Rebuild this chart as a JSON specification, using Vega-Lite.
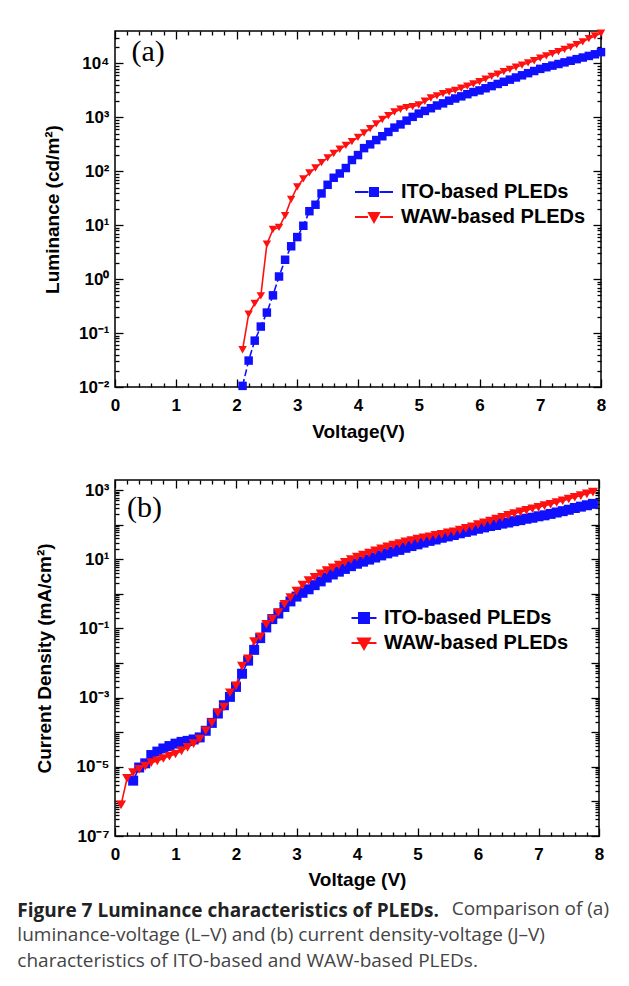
{
  "$schema": "https://vega.github.io/schema/vega-lite/v6.json",
  "padding": {"left": 17, "top": 28, "right": 5, "bottom": 5},
  "background": "white",
  "datasets": {
    "lv": [
      {"s":"ITO-based PLEDs","v":2.1,"y":0.0105},{"s":"ITO-based PLEDs","v":2.2,"y":0.0309},{"s":"ITO-based PLEDs","v":2.3,"y":0.0724},{"s":"ITO-based PLEDs","v":2.4,"y":0.132},{"s":"ITO-based PLEDs","v":2.5,"y":0.24},{"s":"ITO-based PLEDs","v":2.6,"y":0.501},{"s":"ITO-based PLEDs","v":2.7,"y":1.12},{"s":"ITO-based PLEDs","v":2.8,"y":2.29},{"s":"ITO-based PLEDs","v":2.9,"y":4.07},{"s":"ITO-based PLEDs","v":3.0,"y":6.03},
      {"s":"ITO-based PLEDs","v":3.1,"y":9.77},{"s":"ITO-based PLEDs","v":3.2,"y":18.2},{"s":"ITO-based PLEDs","v":3.3,"y":24.0},{"s":"ITO-based PLEDs","v":3.4,"y":38.9},{"s":"ITO-based PLEDs","v":3.5,"y":56.2},{"s":"ITO-based PLEDs","v":3.6,"y":75.9},{"s":"ITO-based PLEDs","v":3.7,"y":91.2},{"s":"ITO-based PLEDs","v":3.8,"y":115},{"s":"ITO-based PLEDs","v":3.9,"y":162},{"s":"ITO-based PLEDs","v":4.0,"y":200},
      {"s":"ITO-based PLEDs","v":4.1,"y":269},{"s":"ITO-based PLEDs","v":4.2,"y":316},{"s":"ITO-based PLEDs","v":4.3,"y":380},{"s":"ITO-based PLEDs","v":4.4,"y":447},{"s":"ITO-based PLEDs","v":4.5,"y":537},{"s":"ITO-based PLEDs","v":4.6,"y":646},{"s":"ITO-based PLEDs","v":4.7,"y":741},{"s":"ITO-based PLEDs","v":4.8,"y":871},{"s":"ITO-based PLEDs","v":4.9,"y":1023},{"s":"ITO-based PLEDs","v":5.0,"y":1175},
      {"s":"ITO-based PLEDs","v":5.1,"y":1318},{"s":"ITO-based PLEDs","v":5.2,"y":1479},{"s":"ITO-based PLEDs","v":5.3,"y":1660},{"s":"ITO-based PLEDs","v":5.4,"y":1820},{"s":"ITO-based PLEDs","v":5.5,"y":2042},{"s":"ITO-based PLEDs","v":5.6,"y":2239},{"s":"ITO-based PLEDs","v":5.7,"y":2455},{"s":"ITO-based PLEDs","v":5.8,"y":2692},{"s":"ITO-based PLEDs","v":5.9,"y":2951},{"s":"ITO-based PLEDs","v":6.0,"y":3162},
      {"s":"ITO-based PLEDs","v":6.1,"y":3467},{"s":"ITO-based PLEDs","v":6.2,"y":3802},{"s":"ITO-based PLEDs","v":6.3,"y":4169},{"s":"ITO-based PLEDs","v":6.4,"y":4571},{"s":"ITO-based PLEDs","v":6.5,"y":5012},{"s":"ITO-based PLEDs","v":6.6,"y":5495},{"s":"ITO-based PLEDs","v":6.7,"y":6026},{"s":"ITO-based PLEDs","v":6.8,"y":6607},{"s":"ITO-based PLEDs","v":6.9,"y":7244},{"s":"ITO-based PLEDs","v":7.0,"y":7943},
      {"s":"ITO-based PLEDs","v":7.1,"y":8511},{"s":"ITO-based PLEDs","v":7.2,"y":9120},{"s":"ITO-based PLEDs","v":7.3,"y":9772},{"s":"ITO-based PLEDs","v":7.4,"y":10470},{"s":"ITO-based PLEDs","v":7.5,"y":11220},{"s":"ITO-based PLEDs","v":7.6,"y":12020},{"s":"ITO-based PLEDs","v":7.7,"y":12880},{"s":"ITO-based PLEDs","v":7.8,"y":13800},{"s":"ITO-based PLEDs","v":7.9,"y":14790},{"s":"ITO-based PLEDs","v":8.0,"y":16220},
      {"s":"WAW-based PLEDs","v":2.1,"y":0.049},{"s":"WAW-based PLEDs","v":2.2,"y":0.224},{"s":"WAW-based PLEDs","v":2.3,"y":0.355},{"s":"WAW-based PLEDs","v":2.4,"y":0.49},{"s":"WAW-based PLEDs","v":2.5,"y":4.47},{"s":"WAW-based PLEDs","v":2.6,"y":8.32},{"s":"WAW-based PLEDs","v":2.7,"y":9.12},{"s":"WAW-based PLEDs","v":2.8,"y":15.1},{"s":"WAW-based PLEDs","v":2.9,"y":30.2},{"s":"WAW-based PLEDs","v":3.0,"y":51.3},
      {"s":"WAW-based PLEDs","v":3.1,"y":72.4},{"s":"WAW-based PLEDs","v":3.2,"y":93.3},{"s":"WAW-based PLEDs","v":3.3,"y":115},{"s":"WAW-based PLEDs","v":3.4,"y":145},{"s":"WAW-based PLEDs","v":3.5,"y":178},{"s":"WAW-based PLEDs","v":3.6,"y":214},{"s":"WAW-based PLEDs","v":3.7,"y":257},{"s":"WAW-based PLEDs","v":3.8,"y":302},{"s":"WAW-based PLEDs","v":3.9,"y":355},{"s":"WAW-based PLEDs","v":4.0,"y":427},
      {"s":"WAW-based PLEDs","v":4.1,"y":513},{"s":"WAW-based PLEDs","v":4.2,"y":617},{"s":"WAW-based PLEDs","v":4.3,"y":759},{"s":"WAW-based PLEDs","v":4.4,"y":912},{"s":"WAW-based PLEDs","v":4.5,"y":1072},{"s":"WAW-based PLEDs","v":4.6,"y":1259},{"s":"WAW-based PLEDs","v":4.7,"y":1413},{"s":"WAW-based PLEDs","v":4.8,"y":1514},{"s":"WAW-based PLEDs","v":4.9,"y":1585},{"s":"WAW-based PLEDs","v":5.0,"y":1698},
      {"s":"WAW-based PLEDs","v":5.1,"y":1995},{"s":"WAW-based PLEDs","v":5.2,"y":2291},{"s":"WAW-based PLEDs","v":5.3,"y":2512},{"s":"WAW-based PLEDs","v":5.4,"y":2754},{"s":"WAW-based PLEDs","v":5.5,"y":2951},{"s":"WAW-based PLEDs","v":5.6,"y":3162},{"s":"WAW-based PLEDs","v":5.7,"y":3467},{"s":"WAW-based PLEDs","v":5.8,"y":3802},{"s":"WAW-based PLEDs","v":5.9,"y":4169},{"s":"WAW-based PLEDs","v":6.0,"y":4571},
      {"s":"WAW-based PLEDs","v":6.1,"y":5129},{"s":"WAW-based PLEDs","v":6.2,"y":5754},{"s":"WAW-based PLEDs","v":6.3,"y":6310},{"s":"WAW-based PLEDs","v":6.4,"y":7079},{"s":"WAW-based PLEDs","v":6.5,"y":7762},{"s":"WAW-based PLEDs","v":6.6,"y":8511},{"s":"WAW-based PLEDs","v":6.7,"y":9333},{"s":"WAW-based PLEDs","v":6.8,"y":10230},{"s":"WAW-based PLEDs","v":6.9,"y":11220},{"s":"WAW-based PLEDs","v":7.0,"y":12590},
      {"s":"WAW-based PLEDs","v":7.1,"y":13800},{"s":"WAW-based PLEDs","v":7.2,"y":15140},{"s":"WAW-based PLEDs","v":7.3,"y":16600},{"s":"WAW-based PLEDs","v":7.4,"y":18200},{"s":"WAW-based PLEDs","v":7.5,"y":19950},{"s":"WAW-based PLEDs","v":7.6,"y":22390},{"s":"WAW-based PLEDs","v":7.7,"y":25120},{"s":"WAW-based PLEDs","v":7.8,"y":28840},{"s":"WAW-based PLEDs","v":7.9,"y":32360},{"s":"WAW-based PLEDs","v":8.0,"y":36310}
    ],
    "jv": [
      {"s":"ITO-based PLEDs","v":0.3,"y":3.98e-6},{"s":"ITO-based PLEDs","v":0.4,"y":9.55e-6},{"s":"ITO-based PLEDs","v":0.5,"y":1.26e-5},{"s":"ITO-based PLEDs","v":0.6,"y":2.19e-5},{"s":"ITO-based PLEDs","v":0.7,"y":2.75e-5},{"s":"ITO-based PLEDs","v":0.8,"y":3.39e-5},{"s":"ITO-based PLEDs","v":0.9,"y":3.98e-5},{"s":"ITO-based PLEDs","v":1.0,"y":4.68e-5},
      {"s":"ITO-based PLEDs","v":1.1,"y":5.25e-5},{"s":"ITO-based PLEDs","v":1.2,"y":5.62e-5},{"s":"ITO-based PLEDs","v":1.3,"y":6.17e-5},{"s":"ITO-based PLEDs","v":1.4,"y":7.08e-5},{"s":"ITO-based PLEDs","v":1.5,"y":1.10e-4},{"s":"ITO-based PLEDs","v":1.6,"y":1.86e-4},{"s":"ITO-based PLEDs","v":1.7,"y":3.47e-4},{"s":"ITO-based PLEDs","v":1.8,"y":6.03e-4},{"s":"ITO-based PLEDs","v":1.9,"y":1.05e-3},{"s":"ITO-based PLEDs","v":2.0,"y":2.04e-3},
      {"s":"ITO-based PLEDs","v":2.1,"y":4.90e-3},{"s":"ITO-based PLEDs","v":2.2,"y":0.0117},{"s":"ITO-based PLEDs","v":2.3,"y":0.024},{"s":"ITO-based PLEDs","v":2.4,"y":0.0525},{"s":"ITO-based PLEDs","v":2.5,"y":0.107},{"s":"ITO-based PLEDs","v":2.6,"y":0.186},{"s":"ITO-based PLEDs","v":2.7,"y":0.269},{"s":"ITO-based PLEDs","v":2.8,"y":0.417},{"s":"ITO-based PLEDs","v":2.9,"y":0.603},{"s":"ITO-based PLEDs","v":3.0,"y":0.832},
      {"s":"ITO-based PLEDs","v":3.1,"y":1.07},{"s":"ITO-based PLEDs","v":3.2,"y":1.35},{"s":"ITO-based PLEDs","v":3.3,"y":1.78},{"s":"ITO-based PLEDs","v":3.4,"y":2.29},{"s":"ITO-based PLEDs","v":3.5,"y":2.95},{"s":"ITO-based PLEDs","v":3.6,"y":3.63},{"s":"ITO-based PLEDs","v":3.7,"y":4.37},{"s":"ITO-based PLEDs","v":3.8,"y":5.25},{"s":"ITO-based PLEDs","v":3.9,"y":6.31},{"s":"ITO-based PLEDs","v":4.0,"y":7.41},
      {"s":"ITO-based PLEDs","v":4.1,"y":8.51},{"s":"ITO-based PLEDs","v":4.2,"y":9.77},{"s":"ITO-based PLEDs","v":4.3,"y":11.2},{"s":"ITO-based PLEDs","v":4.4,"y":12.9},{"s":"ITO-based PLEDs","v":4.5,"y":14.8},{"s":"ITO-based PLEDs","v":4.6,"y":16.6},{"s":"ITO-based PLEDs","v":4.7,"y":18.6},{"s":"ITO-based PLEDs","v":4.8,"y":21.4},{"s":"ITO-based PLEDs","v":4.9,"y":24.0},{"s":"ITO-based PLEDs","v":5.0,"y":26.9},
      {"s":"ITO-based PLEDs","v":5.1,"y":30.2},{"s":"ITO-based PLEDs","v":5.2,"y":33.9},{"s":"ITO-based PLEDs","v":5.3,"y":37.2},{"s":"ITO-based PLEDs","v":5.4,"y":41.7},{"s":"ITO-based PLEDs","v":5.5,"y":45.7},{"s":"ITO-based PLEDs","v":5.6,"y":50.1},{"s":"ITO-based PLEDs","v":5.7,"y":56.2},{"s":"ITO-based PLEDs","v":5.8,"y":61.7},{"s":"ITO-based PLEDs","v":5.9,"y":67.6},{"s":"ITO-based PLEDs","v":6.0,"y":75.9},
      {"s":"ITO-based PLEDs","v":6.1,"y":83.2},{"s":"ITO-based PLEDs","v":6.2,"y":91.2},{"s":"ITO-based PLEDs","v":6.3,"y":97.7},{"s":"ITO-based PLEDs","v":6.4,"y":107},{"s":"ITO-based PLEDs","v":6.5,"y":115},{"s":"ITO-based PLEDs","v":6.6,"y":126},{"s":"ITO-based PLEDs","v":6.7,"y":135},{"s":"ITO-based PLEDs","v":6.8,"y":148},{"s":"ITO-based PLEDs","v":6.9,"y":158},{"s":"ITO-based PLEDs","v":7.0,"y":174},
      {"s":"ITO-based PLEDs","v":7.1,"y":186},{"s":"ITO-based PLEDs","v":7.2,"y":204},{"s":"ITO-based PLEDs","v":7.3,"y":224},{"s":"ITO-based PLEDs","v":7.4,"y":245},{"s":"ITO-based PLEDs","v":7.5,"y":269},{"s":"ITO-based PLEDs","v":7.6,"y":302},{"s":"ITO-based PLEDs","v":7.7,"y":331},{"s":"ITO-based PLEDs","v":7.8,"y":363},{"s":"ITO-based PLEDs","v":7.9,"y":398},
      {"s":"WAW-based PLEDs","v":0.1,"y":7.94e-7},{"s":"WAW-based PLEDs","v":0.2,"y":4.68e-6},{"s":"WAW-based PLEDs","v":0.3,"y":6.76e-6},{"s":"WAW-based PLEDs","v":0.4,"y":8.51e-6},{"s":"WAW-based PLEDs","v":0.5,"y":1.05e-5},{"s":"WAW-based PLEDs","v":0.6,"y":1.32e-5},{"s":"WAW-based PLEDs","v":0.7,"y":1.48e-5},{"s":"WAW-based PLEDs","v":0.8,"y":1.74e-5},{"s":"WAW-based PLEDs","v":0.9,"y":2.04e-5},{"s":"WAW-based PLEDs","v":1.0,"y":2.34e-5},
      {"s":"WAW-based PLEDs","v":1.1,"y":2.88e-5},{"s":"WAW-based PLEDs","v":1.2,"y":3.63e-5},{"s":"WAW-based PLEDs","v":1.3,"y":4.68e-5},{"s":"WAW-based PLEDs","v":1.4,"y":6.31e-5},{"s":"WAW-based PLEDs","v":1.5,"y":1.10e-4},{"s":"WAW-based PLEDs","v":1.6,"y":1.86e-4},{"s":"WAW-based PLEDs","v":1.7,"y":3.63e-4},{"s":"WAW-based PLEDs","v":1.8,"y":5.37e-4},{"s":"WAW-based PLEDs","v":1.9,"y":1.38e-3},{"s":"WAW-based PLEDs","v":2.0,"y":2.19e-3},
      {"s":"WAW-based PLEDs","v":2.1,"y":8.13e-3},{"s":"WAW-based PLEDs","v":2.2,"y":0.0132},{"s":"WAW-based PLEDs","v":2.3,"y":0.0417},{"s":"WAW-based PLEDs","v":2.4,"y":0.0575},{"s":"WAW-based PLEDs","v":2.5,"y":0.132},{"s":"WAW-based PLEDs","v":2.6,"y":0.186},{"s":"WAW-based PLEDs","v":2.7,"y":0.288},{"s":"WAW-based PLEDs","v":2.8,"y":0.501},{"s":"WAW-based PLEDs","v":2.9,"y":0.776},{"s":"WAW-based PLEDs","v":3.0,"y":1.2},
      {"s":"WAW-based PLEDs","v":3.1,"y":1.78},{"s":"WAW-based PLEDs","v":3.2,"y":2.4},{"s":"WAW-based PLEDs","v":3.3,"y":3.02},{"s":"WAW-based PLEDs","v":3.4,"y":3.8},{"s":"WAW-based PLEDs","v":3.5,"y":4.68},{"s":"WAW-based PLEDs","v":3.6,"y":5.62},{"s":"WAW-based PLEDs","v":3.7,"y":6.76},{"s":"WAW-based PLEDs","v":3.8,"y":8.13},{"s":"WAW-based PLEDs","v":3.9,"y":9.77},{"s":"WAW-based PLEDs","v":4.0,"y":11.5},
      {"s":"WAW-based PLEDs","v":4.1,"y":13.2},{"s":"WAW-based PLEDs","v":4.2,"y":15.1},{"s":"WAW-based PLEDs","v":4.3,"y":17.4},{"s":"WAW-based PLEDs","v":4.4,"y":20.0},{"s":"WAW-based PLEDs","v":4.5,"y":22.9},{"s":"WAW-based PLEDs","v":4.6,"y":25.7},{"s":"WAW-based PLEDs","v":4.7,"y":28.2},{"s":"WAW-based PLEDs","v":4.8,"y":31.6},{"s":"WAW-based PLEDs","v":4.9,"y":34.7},{"s":"WAW-based PLEDs","v":5.0,"y":38.0},
      {"s":"WAW-based PLEDs","v":5.1,"y":41.7},{"s":"WAW-based PLEDs","v":5.2,"y":44.7},{"s":"WAW-based PLEDs","v":5.3,"y":49.0},{"s":"WAW-based PLEDs","v":5.4,"y":52.5},{"s":"WAW-based PLEDs","v":5.5,"y":57.5},{"s":"WAW-based PLEDs","v":5.6,"y":61.7},{"s":"WAW-based PLEDs","v":5.7,"y":69.2},{"s":"WAW-based PLEDs","v":5.8,"y":77.6},{"s":"WAW-based PLEDs","v":5.9,"y":87.1},{"s":"WAW-based PLEDs","v":6.0,"y":100},
      {"s":"WAW-based PLEDs","v":6.1,"y":112},{"s":"WAW-based PLEDs","v":6.2,"y":126},{"s":"WAW-based PLEDs","v":6.3,"y":145},{"s":"WAW-based PLEDs","v":6.4,"y":162},{"s":"WAW-based PLEDs","v":6.5,"y":186},{"s":"WAW-based PLEDs","v":6.6,"y":209},{"s":"WAW-based PLEDs","v":6.7,"y":234},{"s":"WAW-based PLEDs","v":6.8,"y":257},{"s":"WAW-based PLEDs","v":6.9,"y":288},{"s":"WAW-based PLEDs","v":7.0,"y":316},
      {"s":"WAW-based PLEDs","v":7.1,"y":355},{"s":"WAW-based PLEDs","v":7.2,"y":389},{"s":"WAW-based PLEDs","v":7.3,"y":437},{"s":"WAW-based PLEDs","v":7.4,"y":490},{"s":"WAW-based PLEDs","v":7.5,"y":550},{"s":"WAW-based PLEDs","v":7.6,"y":617},{"s":"WAW-based PLEDs","v":7.7,"y":692},{"s":"WAW-based PLEDs","v":7.8,"y":776},{"s":"WAW-based PLEDs","v":7.9,"y":871}
    ]
  },
  "title": {
    "text": "Figure 7 Luminance characteristics of PLEDs.",
    "subtitle": [
      "\u200b\u00a0\u00a0\u00a0\u00a0\u00a0\u00a0\u00a0\u00a0\u00a0\u00a0\u00a0\u00a0\u00a0\u00a0\u00a0\u00a0\u00a0\u00a0\u00a0\u00a0\u00a0\u00a0\u00a0\u00a0\u00a0\u00a0\u00a0\u00a0\u00a0\u00a0\u00a0\u00a0\u00a0\u00a0\u00a0\u00a0\u00a0\u00a0\u00a0\u00a0\u00a0\u00a0\u00a0\u00a0\u00a0\u00a0\u00a0\u00a0\u00a0\u00a0\u00a0\u00a0\u00a0\u00a0\u00a0\u00a0\u00a0\u00a0\u00a0\u00a0\u00a0\u00a0\u00a0\u00a0\u00a0\u00a0\u00a0\u00a0\u00a0\u00a0\u00a0\u00a0\u00a0\u00a0\u00a0\u00a0\u00a0\u00a0\u00a0\u00a0\u00a0\u00a0\u00a0\u00a0\u00a0\u00a0\u00a0\u00a0Comparison of (a)",
      "luminance-voltage (L–V) and (b) current density-voltage (J–V)",
      "characteristics of ITO-based and WAW-based PLEDs."
    ],
    "orient": "bottom",
    "anchor": "start",
    "dx": -17,
    "offset": 12,
    "font": "Open Sans",
    "fontSize": 19,
    "fontWeight": "bold",
    "color": "#222222",
    "subtitleFont": "Open Sans",
    "subtitleFontSize": 19,
    "subtitleColor": "#444444",
    "subtitleLineHeight": 26,
    "subtitlePadding": -21
  },
  "spacing": 36,
  "resolve": {"scale": {"color": "independent", "shape": "independent", "strokeDash": "independent"}, "legend": {"color": "independent"}},
  "vconcat": [
    {
      "width": 486,
      "height": 356,
      "data": {"name": "lv"},
      "layer": [
        {
          "mark": {"type": "line", "strokeWidth": 1.6},
          "encoding": {
            "x": {"field": "v", "type": "quantitative", "scale": {"domain": [0, 8], "nice": false, "zero": false},
              "axis": {"orient": "bottom", "values": [0,1,2,3,4,5,6,7,8], "tickSize": -8, "labelPadding": 18, "labelFlush": false, "format": "d", "title": "Voltage(V)", "titlePadding": 9}},
            "y": {"field": "y", "type": "quantitative", "scale": {"type": "log", "domain": [0.01, 40000], "nice": false},
              "axis": {"orient": "left", "values": [0.01,0.1,1,10,100,1000,10000], "tickSize": -8, "labelPadding": 14, "labelOverlap": false,
                "labelExpr": "'10' + (datum.value < 1 ? '⁻' : '') + ['⁰','¹','²','³','⁴','⁵','⁶','⁷','⁸','⁹'][abs(round(log(datum.value)/LN10))]",
                "title": "Luminance (cd/m²)", "titlePadding": 16}},
            "color": {"field": "s", "type": "nominal", "scale": {"domain": ["ITO-based PLEDs","WAW-based PLEDs"], "range": ["#1010ff","#ff1010"]}},
            "strokeDash": {"field": "s", "type": "nominal", "scale": {"range": [[7,3],[1,0]]}, "legend": null}
          }
        },
        {
          "mark": {"type": "point", "filled": true, "opacity": 1, "size": 72},
          "encoding": {
            "x": {"field": "v", "type": "quantitative", "axis": {"orient": "top", "values": [0,1,2,3,4,5,6,7,8], "tickSize": -8, "labels": false, "title": null}},
            "y": {"field": "y", "type": "quantitative", "axis": {"orient": "right", "values": [0.01,0.1,1,10,100,1000,10000], "tickSize": -8, "labels": false, "title": null}},
            "color": {"field": "s", "type": "nominal",
              "legend": {"orient": "none", "legendX": 248, "legendY": 150, "title": null, "padding": 0, "symbolSize": 400, "labelOffset": 16, "rowPadding": 4, "labelLimit": 400,
                "labelFont": "Liberation Sans", "labelFontWeight": "bold", "labelFontSize": 20, "labelColor": "black",
                "encoding": {"symbols": {
                  "shape": {"condition": {"test": "datum.value === 'ITO-based PLEDs'", "value": "M-1.9,0H-0.55M0.55,0H1.9M-0.4,-0.4H0.4V0.4H-0.4Z"}, "value": "M-1.9,0H-0.6M0.6,0H1.9M-0.5,-0.4H0.5L0,0.5Z"},
                  "stroke": {"condition": {"test": "datum.value === 'ITO-based PLEDs'", "value": "#1010ff"}, "value": "#ff1010"},
                  "strokeWidth": {"value": 2}, "opacity": {"value": 1}}}}},
            "shape": {"field": "s", "type": "nominal", "scale": {"range": ["square","triangle-down"]}, "legend": null}
          }
        },
        {
          "mark": {"type": "point", "opacity": 0},
          "encoding": {
            "x": {"field": "v", "type": "quantitative", "axis": {"orient": "bottom", "values": [0.2,0.4,0.6,0.8,1.2,1.4,1.6,1.8,2.2,2.4,2.6,2.8,3.2,3.4,3.6,3.8,4.2,4.4,4.6,4.8,5.2,5.4,5.6,5.8,6.2,6.4,6.6,6.8,7.2,7.4,7.6,7.8], "tickSize": -4, "labels": false, "title": null}},
            "y": {"field": "y", "type": "quantitative", "axis": {"orient": "left", "values": [0.02,0.03,0.04,0.05,0.06,0.07,0.08,0.09,0.2,0.3,0.4,0.5,0.6,0.7,0.8,0.9,2,3,4,5,6,7,8,9,20,30,40,50,60,70,80,90,200,300,400,500,600,700,800,900,2000,3000,4000,5000,6000,7000,8000,9000,20000,30000], "tickSize": -4, "labels": false, "title": null}}
          }
        },
        {
          "mark": {"type": "point", "opacity": 0},
          "encoding": {
            "x": {"field": "v", "type": "quantitative", "axis": {"orient": "top", "values": [0.2,0.4,0.6,0.8,1.2,1.4,1.6,1.8,2.2,2.4,2.6,2.8,3.2,3.4,3.6,3.8,4.2,4.4,4.6,4.8,5.2,5.4,5.6,5.8,6.2,6.4,6.6,6.8,7.2,7.4,7.6,7.8], "tickSize": -4, "labels": false, "title": null}},
            "y": {"field": "y", "type": "quantitative", "axis": {"orient": "right", "values": [0.02,0.03,0.04,0.05,0.06,0.07,0.08,0.09,0.2,0.3,0.4,0.5,0.6,0.7,0.8,0.9,2,3,4,5,6,7,8,9,20,30,40,50,60,70,80,90,200,300,400,500,600,700,800,900,2000,3000,4000,5000,6000,7000,8000,9000,20000,30000], "tickSize": -4, "labels": false, "title": null}}
          }
        },
        {
          "data": {"values": [{}]},
          "mark": {"type": "text", "font": "Liberation Serif", "fontSize": 30, "fontWeight": "normal", "align": "left", "baseline": "middle", "color": "black"},
          "encoding": {
            "x": {"datum": 0.27, "type": "quantitative", "axis": null},
            "y": {"datum": 16500, "type": "quantitative", "axis": null},
            "text": {"value": "(a)"}
          }
        }
      ],
      "resolve": {"axis": {"x": "independent", "y": "independent"}}
    },
    {
      "width": 484,
      "height": 356,
      "data": {"name": "jv"},
      "layer": [
        {
          "mark": {"type": "line", "strokeWidth": 1.6},
          "encoding": {
            "x": {"field": "v", "type": "quantitative", "scale": {"domain": [0, 8], "nice": false, "zero": false},
              "axis": {"orient": "bottom", "values": [0,1,2,3,4,5,6,7,8], "tickSize": -8, "labelPadding": 18, "labelFlush": false, "format": "d", "title": "Voltage (V)", "titlePadding": 8}},
            "y": {"field": "y", "type": "quantitative", "scale": {"type": "log", "domain": [1e-7, 1950], "nice": false},
              "axis": {"orient": "left", "values": [1e-7,1e-6,1e-5,1e-4,1e-3,1e-2,0.1,1,10,100,1000], "tickSize": -8, "labelPadding": 14, "labelOverlap": false,
                "labelExpr": "abs(round(log(datum.value)/LN10)) % 2 == 1 ? '10' + (datum.value < 1 ? '⁻' : '') + ['⁰','¹','²','³','⁴','⁵','⁶','⁷','⁸','⁹'][abs(round(log(datum.value)/LN10))] : ''",
                "title": "Current Density (mA/cm²)", "titlePadding": 22}},
            "color": {"field": "s", "type": "nominal", "scale": {"domain": ["ITO-based PLEDs","WAW-based PLEDs"], "range": ["#1010ff","#ff1010"]}}
          }
        },
        {
          "mark": {"type": "point", "filled": true, "opacity": 1, "size": 100},
          "encoding": {
            "x": {"field": "v", "type": "quantitative", "axis": {"orient": "top", "values": [0,1,2,3,4,5,6,7,8], "tickSize": -8, "labels": false, "title": null}},
            "y": {"field": "y", "type": "quantitative", "axis": {"orient": "right", "values": [1e-7,1e-6,1e-5,1e-4,1e-3,1e-2,0.1,1,10,100,1000], "tickSize": -8, "labels": false, "title": null}},
            "color": {"field": "s", "type": "nominal",
              "legend": {"orient": "none", "legendX": 238, "legendY": 127, "title": null, "padding": 0, "symbolSize": 400, "labelOffset": 9, "rowPadding": 4, "labelLimit": 400,
                "labelFont": "Liberation Sans", "labelFontWeight": "bold", "labelFontSize": 20, "labelColor": "black",
                "encoding": {"symbols": {
                  "shape": {"condition": {"test": "datum.value === 'ITO-based PLEDs'", "value": "M-1.25,0H1.25M-0.5,-0.5H0.5V0.5H-0.5Z"}, "value": "M-1.25,0H1.25M-0.6,-0.45H0.6L0,0.6Z"},
                  "stroke": {"condition": {"test": "datum.value === 'ITO-based PLEDs'", "value": "#1010ff"}, "value": "#ff1010"},
                  "strokeWidth": {"value": 2}, "opacity": {"value": 1}}}}},
            "shape": {"field": "s", "type": "nominal", "scale": {"range": ["square","triangle-down"]}, "legend": null}
          }
        },
        {
          "mark": {"type": "point", "opacity": 0},
          "encoding": {
            "x": {"field": "v", "type": "quantitative", "axis": {"orient": "bottom", "values": [0.2,0.4,0.6,0.8,1.2,1.4,1.6,1.8,2.2,2.4,2.6,2.8,3.2,3.4,3.6,3.8,4.2,4.4,4.6,4.8,5.2,5.4,5.6,5.8,6.2,6.4,6.6,6.8,7.2,7.4,7.6,7.8], "tickSize": -4, "labels": false, "title": null}},
            "y": {"field": "y", "type": "quantitative", "axis": {"orient": "left", "values": [2e-7,3e-7,4e-7,5e-7,6e-7,7e-7,8e-7,9e-7,2e-6,3e-6,4e-6,5e-6,6e-6,7e-6,8e-6,9e-6,2e-5,3e-5,4e-5,5e-5,6e-5,7e-5,8e-5,9e-5,2e-4,3e-4,4e-4,5e-4,6e-4,7e-4,8e-4,9e-4,0.002,0.003,0.004,0.005,0.006,0.007,0.008,0.009,0.02,0.03,0.04,0.05,0.06,0.07,0.08,0.09,0.2,0.3,0.4,0.5,0.6,0.7,0.8,0.9,2,3,4,5,6,7,8,9,20,30,40,50,60,70,80,90,200,300,400,500,600,700,800,900], "tickSize": -4, "labels": false, "title": null}}
          }
        },
        {
          "mark": {"type": "point", "opacity": 0},
          "encoding": {
            "x": {"field": "v", "type": "quantitative", "axis": {"orient": "top", "values": [0.2,0.4,0.6,0.8,1.2,1.4,1.6,1.8,2.2,2.4,2.6,2.8,3.2,3.4,3.6,3.8,4.2,4.4,4.6,4.8,5.2,5.4,5.6,5.8,6.2,6.4,6.6,6.8,7.2,7.4,7.6,7.8], "tickSize": -4, "labels": false, "title": null}},
            "y": {"field": "y", "type": "quantitative", "axis": {"orient": "right", "values": [2e-7,3e-7,4e-7,5e-7,6e-7,7e-7,8e-7,9e-7,2e-6,3e-6,4e-6,5e-6,6e-6,7e-6,8e-6,9e-6,2e-5,3e-5,4e-5,5e-5,6e-5,7e-5,8e-5,9e-5,2e-4,3e-4,4e-4,5e-4,6e-4,7e-4,8e-4,9e-4,0.002,0.003,0.004,0.005,0.006,0.007,0.008,0.009,0.02,0.03,0.04,0.05,0.06,0.07,0.08,0.09,0.2,0.3,0.4,0.5,0.6,0.7,0.8,0.9,2,3,4,5,6,7,8,9,20,30,40,50,60,70,80,90,200,300,400,500,600,700,800,900], "tickSize": -4, "labels": false, "title": null}}
          }
        },
        {
          "data": {"values": [{}]},
          "mark": {"type": "text", "font": "Liberation Serif", "fontSize": 30, "fontWeight": "normal", "align": "left", "baseline": "middle", "color": "black"},
          "encoding": {
            "x": {"datum": 0.2, "type": "quantitative", "axis": null},
            "y": {"datum": 300, "type": "quantitative", "axis": null},
            "text": {"value": "(b)"}
          }
        }
      ],
      "resolve": {"axis": {"x": "independent", "y": "independent"}}
    }
  ],
  "config": {
    "view": {"stroke": "black", "strokeWidth": 1.5},
    "axis": {"grid": false, "domain": false, "tickColor": "black", "tickWidth": 1.3,
      "labelFont": "Liberation Sans", "labelFontWeight": "bold", "labelFontSize": 17, "labelColor": "black",
      "titleFont": "Liberation Sans", "titleFontWeight": "bold", "titleFontSize": 19, "titleColor": "black"},
    "legend": {"padding": 0}
  }
}
